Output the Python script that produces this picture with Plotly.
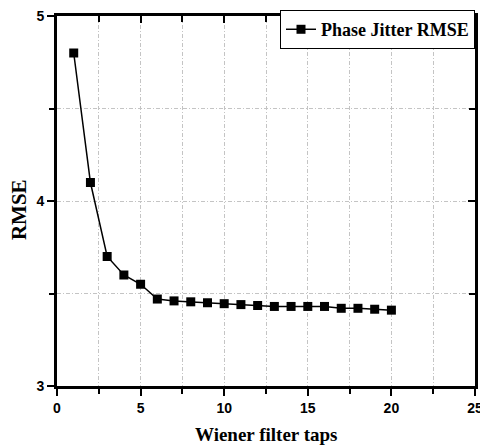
import plotly.graph_objects as go

taps = list(range(1, 21))
rmse = [4.80, 4.10, 3.70, 3.60, 3.55, 3.47, 3.46, 3.455, 3.45, 3.445,
        3.44, 3.435, 3.43, 3.43, 3.43, 3.43, 3.42, 3.42, 3.415, 3.41]
series_name = "Phase Jitter RMSE"
x_title = "Wiener filter taps"
y_title = "RMSE"

fig = go.Figure()
fig.add_trace(go.Scatter(
    x=taps, y=rmse, mode="lines+markers", name="<b>" + series_name + "</b>",
    line=dict(color="black", width=1.5),
    marker=dict(symbol="square", size=9, color="black"),
))
# invisible trace for mirrored top/right axes
fig.add_trace(go.Scatter(x=[None], y=[None], xaxis="x2", yaxis="y2",
                         showlegend=False, hoverinfo="skip"))

GRID = "#c4c4c4"
GDASH = "4px,2px,1px,2px"
tickfont = dict(family="Liberation Sans", size=14, color="black")

fig.update_layout(
    width=480, height=446,
    margin=dict(l=57, r=5, t=16, b=60, autoexpand=False),
    paper_bgcolor="white", plot_bgcolor="white",
    showlegend=True,
    legend=dict(x=1, xanchor="right", y=1.016, yanchor="top",
                bordercolor="black", borderwidth=1, bgcolor="white",
                font=dict(family="Liberation Serif", size=18, color="black"),
                itemwidth=30, tracegroupgap=0),
    xaxis=dict(range=[0, 25], dtick=5, tick0=0, ticks="outside", ticklen=7,
               tickwidth=2, tickcolor="black", showline=True, linewidth=3,
               linecolor="black", zeroline=False, ticklabeloverflow="allow",
               automargin=False,
               tickfont=tickfont, tickprefix="<b>", ticksuffix="</b>",
               showgrid=True, gridcolor=GRID, griddash=GDASH, gridwidth=1,
               minor=dict(dtick=2.5, ticks="outside", ticklen=5, tickwidth=1.5,
                          tickcolor="black", showgrid=True, gridcolor=GRID,
                          griddash=GDASH)),
    yaxis=dict(range=[3, 5], dtick=1, tick0=3, ticks="outside", ticklen=7,
               tickwidth=2, tickcolor="black", showline=True, linewidth=3,
               linecolor="black", zeroline=False, automargin=False,
               tickfont=tickfont, tickprefix="<b>", ticksuffix="</b>",
               showgrid=True, gridcolor=GRID, griddash=GDASH, gridwidth=1,
               minor=dict(dtick=0.5, ticks="outside", ticklen=5, tickwidth=1.5,
                          tickcolor="black", showgrid=True, gridcolor=GRID,
                          griddash=GDASH)),
    xaxis2=dict(range=[0, 25], overlaying="x", side="top", dtick=5, tick0=0,
                ticks="inside", ticklen=7, tickwidth=2, tickcolor="black",
                showticklabels=False, showline=True, linewidth=3,
                linecolor="black", showgrid=False, zeroline=False,
                automargin=False,
                minor=dict(dtick=2.5, ticks="inside", ticklen=6, tickwidth=1.5,
                           tickcolor="black")),
    yaxis2=dict(range=[3, 5], overlaying="y", side="right", dtick=1, tick0=3,
                ticks="inside", ticklen=7, tickwidth=2, tickcolor="black",
                showticklabels=False, showline=True, linewidth=3,
                linecolor="black", showgrid=False, zeroline=False,
                automargin=False,
                minor=dict(dtick=0.5, ticks="inside", ticklen=6, tickwidth=1.5,
                           tickcolor="black")),
    annotations=[
        dict(text="<b>" + x_title + "</b>", xref="paper", yref="paper",
             x=0.5, y=-0.132, xanchor="center", yanchor="middle", showarrow=False,
             font=dict(family="Liberation Serif", size=19, color="black")),
        dict(text="<b>" + y_title + "</b>", xref="paper", yref="paper",
             x=-0.091, y=0.478, xanchor="center", yanchor="middle", showarrow=False,
             textangle=-90,
             font=dict(family="Liberation Serif", size=21, color="black")),
    ],
)

fig.write_html("out.html")
